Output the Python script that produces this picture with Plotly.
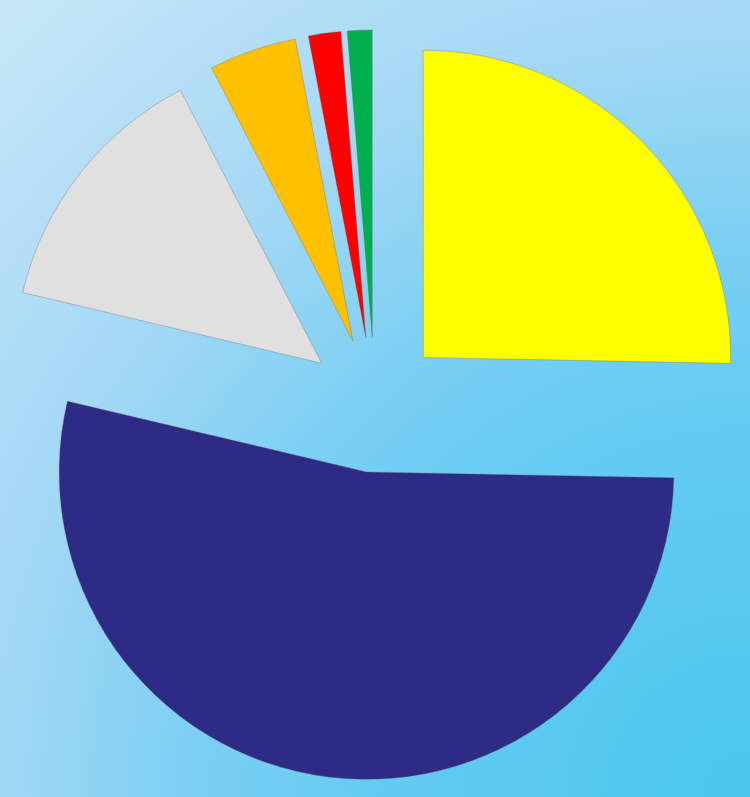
import base64
import plotly.graph_objects as go

# ---- data ----
categories = ["Category 1", "Category 2", "Category 3", "Category 4", "Category 5", "Category 6"]
values = [25.3, 53.4, 13.7, 4.6, 1.7, 1.3]
slice_colors = ["#FFFF00", "#2E2B86", "#E0E0E0", "#FFC000", "#FF0000", "#00B050"]

W, H = 750, 797
PULL = 0.22

# gradient background as an SVG image
svg = f'''<svg xmlns="http://www.w3.org/2000/svg" width="{W}" height="{H}" viewBox="0 0 {W} {H}">
<defs><radialGradient id="g" gradientUnits="userSpaceOnUse" cx="{W}" cy="{H}" r="1094">
<stop offset="0" stop-color="#4BC6EF"/>
<stop offset="0.34" stop-color="#64CBF2"/>
<stop offset="0.5" stop-color="#7ACFF3"/>
<stop offset="0.7" stop-color="#A4D8F5"/>
<stop offset="1" stop-color="#C8E7F8"/>
</radialGradient></defs>
<rect x="0" y="0" width="{W}" height="{H}" fill="url(#g)"/>
</svg>'''
bg_uri = "data:image/svg+xml;base64," + base64.b64encode(svg.encode()).decode()

fig = go.Figure(
    go.Pie(
        labels=categories,
        values=values,
        sort=False,
        direction="clockwise",
        rotation=0,
        pull=[PULL] * len(values),
        marker=dict(colors=slice_colors, line=dict(color="rgba(110,110,110,0.6)", width=0.6)),
        textinfo="none",
        hoverinfo="label+percent",
        showlegend=False,
        domain=dict(x=[0, 1], y=[0, 0.984]),
    )
)

fig.update_layout(
    width=W,
    height=H,
    margin=dict(l=0, r=0, t=0, b=0),
    paper_bgcolor="#8FD3F4",
    plot_bgcolor="rgba(0,0,0,0)",
    images=[dict(source=bg_uri, xref="paper", yref="paper", x=0, y=1,
                 sizex=1, sizey=1, sizing="stretch", layer="below")],
)

fig.write_html("out.html")
